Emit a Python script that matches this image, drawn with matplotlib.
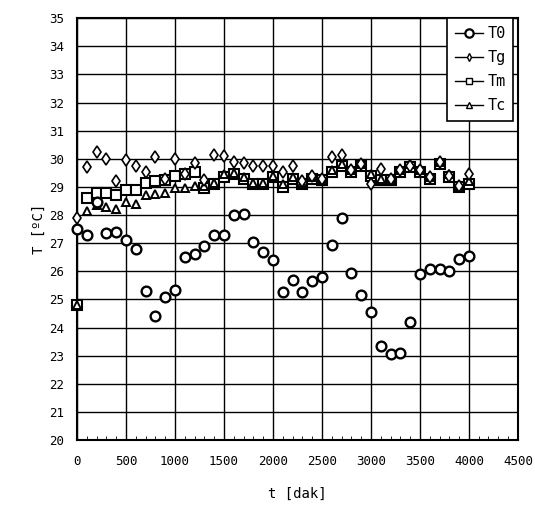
import numpy as np
import matplotlib
matplotlib.use("Agg")
import matplotlib.pyplot as plt
from matplotlib.lines import Line2D

# time in minutes
t = [0, 100, 200, 300, 400, 500, 600, 700, 800, 900, 1000, 1100, 1200, 1300, 1400,
     1500, 1600, 1700, 1800, 1900, 2000, 2100, 2200, 2300, 2400, 2500, 2600, 2700,
     2800, 2900, 3000, 3100, 3200, 3300, 3400, 3500, 3600, 3700, 3800, 3900, 4000]

T0 = [27.5, 27.3, 28.45, 27.35, 27.4, 27.1, 26.8, 25.3, 24.4, 25.1, 25.35, 26.5, 26.6,
      26.9, 27.3, 27.3, 28.0, 28.05, 27.05, 26.7, 26.4, 25.25, 25.7, 25.25, 25.65, 25.8,
      26.95, 27.9, 25.95, 25.15, 24.55, 23.35, 23.05, 23.1, 24.2, 25.9, 26.1, 26.1, 26.0,
      26.45, 26.55]

Tg = [27.9, 29.7, 30.25, 30.0, 29.2, 29.95, 29.75, 29.55, 30.05, 29.3, 30.0, 29.45, 29.85,
      29.25, 30.15, 30.1, 29.9, 29.85, 29.75, 29.75, 29.75, 29.55, 29.75, 29.2, 29.4, 29.3,
      30.05, 30.15, 29.6, 29.8, 29.1, 29.65, 29.3, 29.6, 29.75, 29.6, 29.35, 29.9, 29.4,
      29.05, 29.45]

Tm = [24.8, 28.6, 28.8, 28.8, 28.7, 28.9, 28.9, 29.15, 29.2, 29.25, 29.4, 29.45, 29.55,
      28.95, 29.1, 29.35, 29.45, 29.3, 29.1, 29.1, 29.35, 29.0, 29.3, 29.1, 29.3, 29.25,
      29.55, 29.75, 29.55, 29.75, 29.4, 29.25, 29.25, 29.55, 29.7, 29.55, 29.3, 29.8, 29.35,
      29.0, 29.1]

Tc = [24.8, 28.15, 28.35, 28.3, 28.2, 28.45, 28.4, 28.7, 28.75, 28.8, 28.95, 28.95, 29.05,
      29.05, 29.15, 29.45, 29.5, 29.35, 29.15, 29.15, 29.4, 29.1, 29.35, 29.15, 29.35, 29.3,
      29.6, 29.8, 29.6, 29.8, 29.45, 29.3, 29.3, 29.6, 29.8, 29.6, 29.35, 29.9, 29.45,
      29.05, 29.2]

plt.rcParams["font.family"] = "DejaVu Sans Mono"

fig = plt.figure(figsize=(5.35, 5.07), dpi=100)
ax = fig.add_axes([0.144, 0.132, 0.824, 0.832])

kw = dict(linestyle="none", color="black", markerfacecolor="white", clip_on=False, zorder=3)
ax.plot(t, Tm, marker="s", markersize=6.5, markeredgewidth=1.5, **kw)
ax.plot(t, Tc, marker="^", markersize=5.5, markeredgewidth=1.4, **kw)
ax.plot(t, Tg, marker="d", markersize=6, markeredgewidth=1.2, **kw)
ax.plot(t, T0, marker="o", markersize=7, markeredgewidth=1.7, **kw)

ax.set_xlim(0, 4500)
ax.set_ylim(20, 35)
ax.set_xticks(np.arange(0, 4501, 500))
ax.set_xticks(np.arange(0, 4501, 100), minor=True)
ax.set_yticks(np.arange(20, 36, 1))
ax.grid(True, which="major", color="black", linewidth=1.0)
ax.tick_params(axis="x", which="minor", direction="in", length=3, bottom=True, top=False)
ax.tick_params(axis="both", which="major", direction="in", length=0, labelsize=9)
ax.tick_params(axis="x", which="major", pad=11)
ax.tick_params(axis="y", which="major", pad=9)
for s in ax.spines.values():
    s.set_linewidth(1.5)

ax.set_xlabel("t [dak]", fontsize=10, labelpad=13)
ax.set_ylabel("T [ºC]", fontsize=10, labelpad=3)

handles = [
    Line2D([], [], color="black", lw=1, marker="o", ms=6, mfc="white", mew=1.6),
    Line2D([], [], color="black", lw=1, marker="d", ms=4, mfc="white", mew=1),
    Line2D([], [], color="black", lw=1, marker="s", ms=4.5, mfc="white", mew=1),
    Line2D([], [], color="black", lw=1, marker="^", ms=4, mfc="white", mew=1),
]
leg = ax.legend(handles, ["T0", "Tg", "Tm", "Tc"], loc="upper right",
                bbox_to_anchor=(0.989, 1.0), borderaxespad=0, fancybox=False,
                framealpha=1, edgecolor="black", fontsize=11, handlelength=1.8,
                handletextpad=0.3, labelspacing=0.6, borderpad=0.5)
leg.get_frame().set_linewidth(1.2)

fig.savefig("out.png", dpi=100)
